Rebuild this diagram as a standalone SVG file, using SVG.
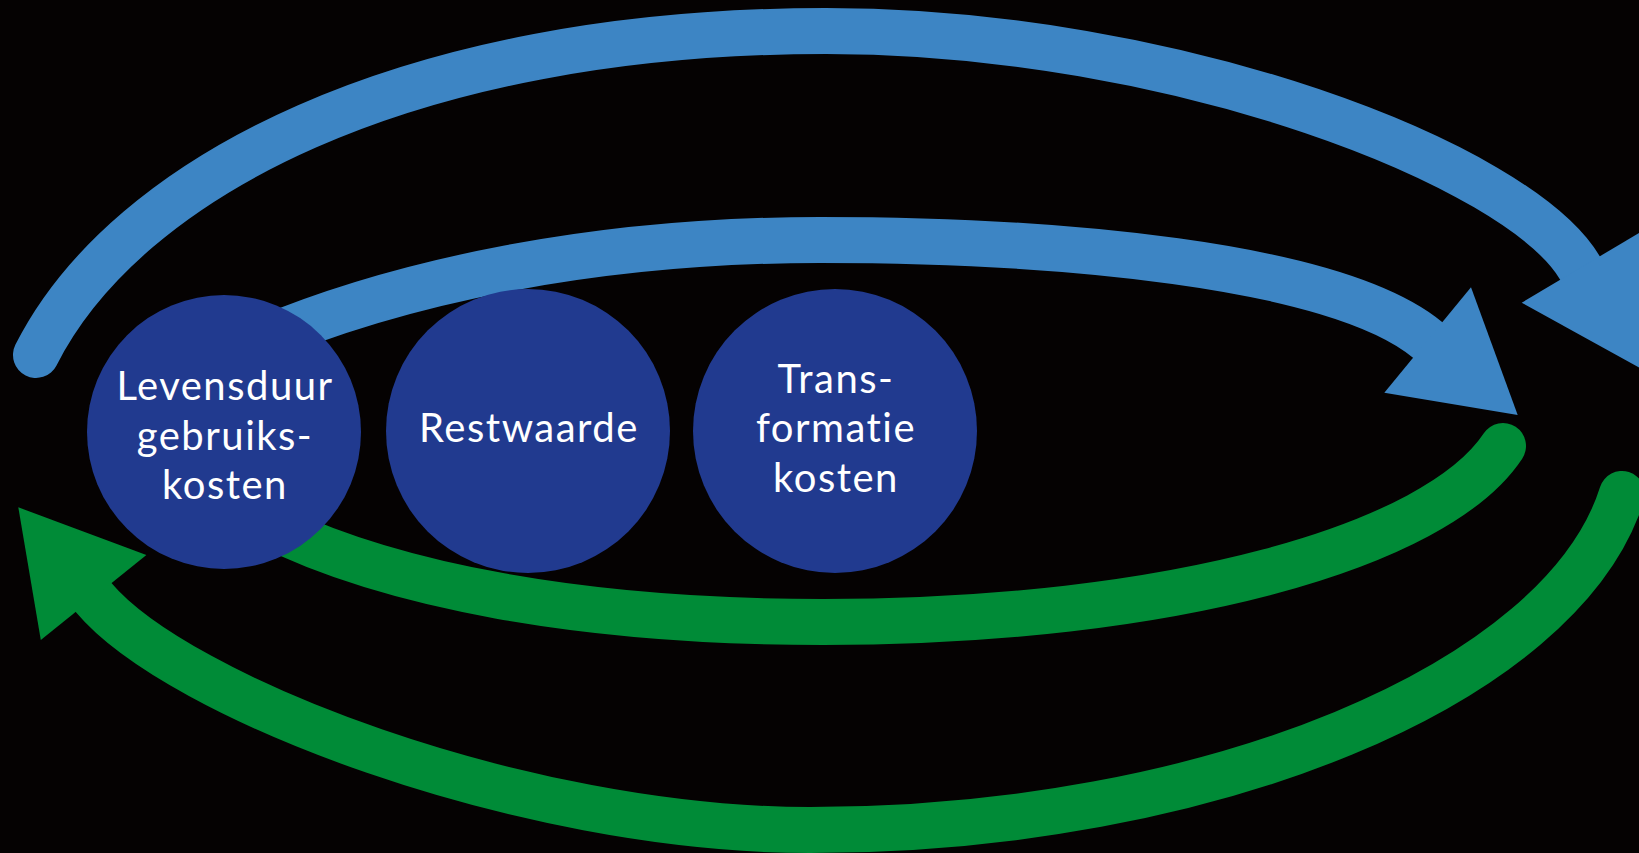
<svg xmlns="http://www.w3.org/2000/svg" width="1639" height="853" viewBox="0 0 1639 853">
<style>
.arc{fill:none;stroke-width:46;stroke-linecap:round}
.blue{stroke:#3d85c4}
.green{stroke:#008b37}
.headb{fill:#3d85c4}
.headg{fill:#008b37}
.node circle{fill:#213a8f}
.node text{fill:#ffffff;font-family:Lato,"Open Sans","DejaVu Sans",sans-serif;font-size:40px;letter-spacing:1.5px;text-anchor:middle}
</style>
<rect width="1639" height="853" fill="#050202"/>
<g id="connectors">
<path class="arc blue" d="M36 355 C126 177 406 31 826 31 C1176 31 1519 165 1580 268"/>
<polygon class="headb" points="1640,368 1521.7,302.7 1639,233"/>
<path class="arc blue" d="M250 345 C400 280 600 240 820 240 C1050 240 1335 263 1427.7 340"/>
<polygon class="headb" points="1517.7,415 1384.3,392.7 1471,287.3"/>
<path class="arc green" d="M1503 446 C1437 546 1173 622 823 622 C600 622 380 590 240 510"/>
<path class="arc green" d="M1622 494 C1562 684 1210 830 810 830 C520 830 177 697 93.6 597.5"/>
<polygon class="headg" points="18.3,507.3 146.4,555 40.8,640"/>
</g>
<g id="node-levensduur" class="node">
<circle cx="224" cy="432" r="137"/>
<text x="225" y="400">Levensduur</text>
<text x="225" y="450">gebruiks-</text>
<text x="225" y="499">kosten</text>
</g>
<g id="node-restwaarde" class="node">
<circle cx="528" cy="431" r="142"/>
<text x="529" y="442">Restwaarde</text>
</g>
<g id="node-transformatie" class="node">
<circle cx="835" cy="431" r="142"/>
<text x="836" y="393">Trans-</text>
<text x="836" y="442">formatie</text>
<text x="836" y="492">kosten</text>
</g>
</svg>
